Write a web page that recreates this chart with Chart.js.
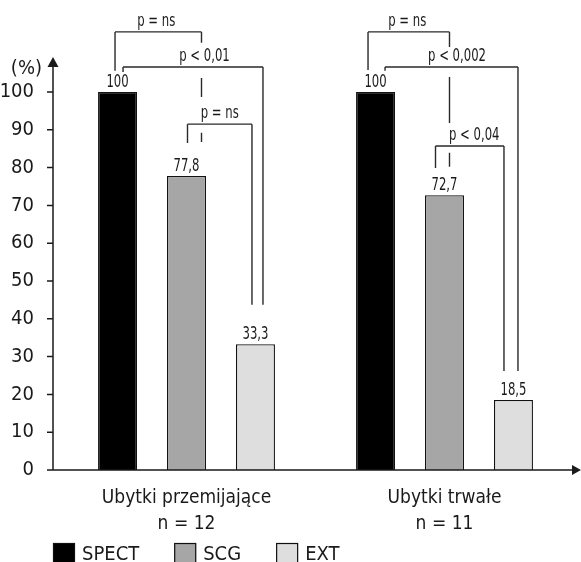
<!DOCTYPE html>
<html>
<head>
<meta charset="utf-8">
<script src="https://cdn.jsdelivr.net/npm/chart.js@4.4.1/dist/chart.umd.min.js"></script>
<style>
  html, body { margin: 0; padding: 0; background: #fff; }
  #wrap { width: 581px; height: 562px; }
</style>
</head>
<body>
<div id="wrap"><canvas id="chart" width="581" height="562"></canvas></div>
<script>
// data
const groups = [['Ubytki przemijające', 'n = 12'], ['Ubytki trwałe', 'n = 11']];
const seriesNames = ['SPECT', 'SCG', 'EXT'];
const spect = [100, 100];
const scg = [77.8, 72.7];
const ext = [33.3, 18.5];
const yTicks = [0, 10, 20, 30, 40, 50, 60, 70, 80, 90, 100];

// significance brackets: which group, which two bars, p text
const pGroup = [0, 0, 0, 1, 1, 1];
const pFrom = [0, 0, 1, 0, 0, 1];
const pTo = [1, 2, 2, 1, 2, 2];
const pText = ['p = ns', 'p < 0,01', 'p = ns', 'p = ns', 'p < 0,002', 'p < 0,04'];

// bracket drawing (heights in % units of the y scale, dx in px from bar centre)
const bracketLook = [
  { top: 115.9, dx1: -2.5, dx2: 15, legL: [[115.9, 105.6]], legR: [[115.9, 113.0], [103.7, 98.7], [89.2, 86.8]], lblDx: -2 },
  { top: 106.6, dx1: 5.5, dx2: 7.5, legL: [[106.6, 105.3]], legR: [[106.6, 43.7]], lblDx: 11.5 },
  { top: 91.5, dx1: 1, dx2: -3.5, legL: [[91.5, 86.5]], legR: [[91.5, 43.7]], lblDx: 0 },
  { top: 115.9, dx1: -7.5, dx2: 5, legL: [[115.9, 105.8]], legR: [[115.9, 111.9], [104.0, 91.8], [83.9, 80.2]], lblDx: -1.5 },
  { top: 106.6, dx1: 9.5, dx2: 4.5, legL: [[106.6, 105.6]], legR: [[106.6, 26.2]], lblDx: 5.5 },
  { top: 85.7, dx1: -9, dx2: -9.5, legL: [[85.7, 79.9]], legR: [[85.7, 26.2]], lblDx: 4.5 }
];

const FONT = "'Liberation Sans Narrow', 'Arial Narrow', 'DejaVu Sans Condensed', 'Roboto', sans-serif";
const INK = '#1a1a1a';
const barColors = ['#000000', '#a6a6a6', '#dedede'];
const AXIS_GAP = 4.5; // y axis line sits a little left of the first category
const SQUEEZE = 0.72;  // small labels in the figure use a very narrow face

function narrowText(ctx, txt, x, y) {
  ctx.save();
  ctx.translate(x, y);
  ctx.scale(SQUEEZE, 1);
  ctx.fillText(txt, 0, 0);
  ctx.restore();
}

const decorations = {
  id: 'decorations',
  afterDraw(chart) {
    const ctx = chart.ctx;
    const area = chart.chartArea;
    const y = chart.scales.y;
    const ax = area.left - AXIS_GAP;
    ctx.save();
    ctx.strokeStyle = INK;
    ctx.fillStyle = INK;
    ctx.lineWidth = 1.5;

    // axes
    ctx.beginPath();
    ctx.moveTo(ax, area.bottom);
    ctx.lineTo(ax, 64);
    ctx.moveTo(ax - 6, area.bottom);
    ctx.lineTo(574, area.bottom);
    yTicks.forEach(v => {
      const py = y.getPixelForValue(v);
      ctx.moveTo(ax - 6, py);
      ctx.lineTo(ax, py);
    });
    ctx.stroke();
    ctx.beginPath();
    ctx.moveTo(ax, 57);
    ctx.lineTo(ax - 5.5, 67);
    ctx.lineTo(ax + 5.5, 67);
    ctx.closePath();
    ctx.fill();
    ctx.beginPath();
    ctx.moveTo(581, area.bottom);
    ctx.lineTo(572, area.bottom - 5);
    ctx.lineTo(572, area.bottom + 5);
    ctx.closePath();
    ctx.fill();

    // unit
    ctx.font = '20px ' + FONT;
    ctx.textAlign = 'right';
    ctx.textBaseline = 'middle';
    ctx.fillText('(%)', 42, 69);

    // value labels
    ctx.font = '18px ' + FONT;
    ctx.textAlign = 'center';
    ctx.textBaseline = 'alphabetic';
    chart.data.datasets.forEach((ds, d) => {
      chart.getDatasetMeta(d).data.forEach((bar, i) => {
        narrowText(ctx, String(ds.data[i]).replace('.', ','), bar.x, bar.y - 5);
      });
    });

    // brackets
    ctx.strokeStyle = '#2a2a2a';
    ctx.lineWidth = 1.4;
    pText.forEach((txt, k) => {
      const look = bracketLook[k];
      const x1 = chart.getDatasetMeta(pFrom[k]).data[pGroup[k]].x + look.dx1;
      const x2 = chart.getDatasetMeta(pTo[k]).data[pGroup[k]].x + look.dx2;
      const top = y.getPixelForValue(look.top);
      ctx.beginPath();
      ctx.moveTo(x1, top);
      ctx.lineTo(x2, top);
      look.legL.forEach(s => { ctx.moveTo(x1, y.getPixelForValue(s[0])); ctx.lineTo(x1, y.getPixelForValue(s[1])); });
      look.legR.forEach(s => { ctx.moveTo(x2, y.getPixelForValue(s[0])); ctx.lineTo(x2, y.getPixelForValue(s[1])); });
      ctx.stroke();
      narrowText(ctx, txt, (x1 + x2) / 2 + look.lblDx, top - 6);
    });

    // legend
    ctx.font = '20px ' + FONT;
    ctx.textAlign = 'left';
    ctx.lineWidth = 1.2;
    ctx.strokeStyle = '#111';
    let lx = 53;
    seriesNames.forEach((name, i) => {
      ctx.fillStyle = barColors[i];
      ctx.fillRect(lx, 543, 22, 20);
      ctx.strokeRect(lx + 0.5, 543.5, 21, 20);
      ctx.fillStyle = INK;
      ctx.fillText(name, lx + 29, 560);
      lx += 29 + ctx.measureText(name).width + 35;
    });
    ctx.restore();
  }
};

const datasets = [spect, scg, ext].map((vals, i) => ({
  label: seriesNames[i],
  data: vals,
  backgroundColor: barColors[i],
  borderColor: '#111',
  borderWidth: 1.3,
  barPercentage: 0.565,
  categoryPercentage: 0.802
}));

new Chart(document.getElementById('chart'), {
  type: 'bar',
  data: { labels: groups, datasets: datasets },
  options: {
    responsive: false,
    animation: false,
    layout: { padding: { top: 92, right: 7.5, bottom: 5, left: 0 } },
    plugins: { legend: { display: false }, tooltip: { enabled: false } },
    scales: {
      x: {
        grid: { display: false },
        border: { display: false },
        ticks: { color: INK, padding: 8, font: { family: FONT, size: 19, lineHeight: 1.32 } },
        afterFit(s) { s.height = 87; }
      },
      y: {
        min: 0,
        max: 100,
        grid: { display: false },
        border: { display: false },
        afterBuildTicks(s) { s.ticks = yTicks.map(v => ({ value: v })); },
        ticks: { color: INK, padding: 15.5, font: { family: FONT, size: 20 } },
        afterFit(s) { s.width = 57.5; }
      }
    }
  },
  plugins: [decorations]
});
</script>
</body>
</html>
